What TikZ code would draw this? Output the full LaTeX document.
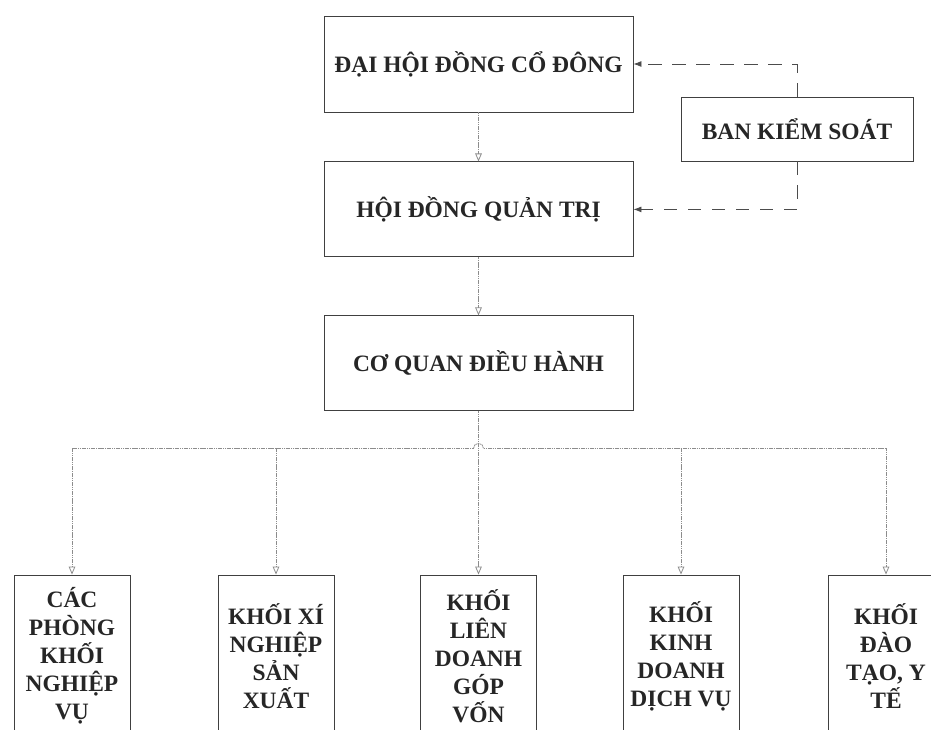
\documentclass[tikz,border=0pt]{standalone}
\usepackage{fontspec}
\setmainfont{Liberation Serif}
\usetikzlibrary{arrows.meta,positioning,calc}

\begin{document}
\begin{tikzpicture}[
  x=0.75pt, y=-0.75pt,
  box/.style={rectangle, draw=black!75, line width=0.7pt, minimum width=231.75pt,
              minimum height=71.25pt, align=center,
              font=\fontsize{17.6}{21}\selectfont\bfseries, text=black!85},
  unitbox/.style={box, minimum width=87pt, minimum height=121.5pt},
  sidebox/.style={box, minimum width=174pt, minimum height=48pt},
  link/.style={draw=black!45, line width=0.6pt, dash pattern=on 1.2pt off 0.5pt},
  arrow/.style={link, -{Triangle[open, length=6pt, width=5pt]}},
  ctrl/.style={draw=black!70, line width=0.6pt, dash pattern=on 10pt off 8pt,
               -{Latex[length=6pt, width=4.5pt]}}
]
  \useasboundingbox (0,0) rectangle (931,730);
  \clip (0,0) rectangle (931,730);

  \node[box, minimum height=72pt] (dhcd) at (478.5,64) {ĐẠI HỘI ĐỒNG CỔ ĐÔNG};
  \node[box, below=36.75pt of dhcd] (hdqt) {HỘI ĐỒNG QUẢN TRỊ};
  \node[box, below=43.5pt of hdqt] (cqdh) {CƠ QUAN ĐIỀU HÀNH};
  \node[sidebox] (bks) at (797,129) {BAN KIỂM SOÁT};

  \node[unitbox] (k1) at (72,656) {CÁC\\PHÒNG\\KHỐI\\NGHIỆP\\VỤ};
  \node[unitbox] (k2) at (276,656) {KHỐI XÍ\\NGHIỆP\\SẢN\\XUẤT};
  \node[unitbox] (k3) at (478.5,656) {KHỐI\\LIÊN\\DOANH\\GÓP\\VỐN};
  \node[unitbox] (k4) at (681,656) {KHỐI\\KINH\\DOANH\\DỊCH VỤ};
  \node[unitbox] (k5) at (886,656) {KHỐI\\ĐÀO\\TẠO, Y\\TẾ};

  \draw[arrow] (dhcd) -- (hdqt);
  \draw[arrow] (hdqt) -- (cqdh);
  \draw[ctrl] (bks.north) |- (dhcd.east);
  \draw[ctrl] (bks.south) |- (hdqt.east);

  % bus below the executive box, with a small hop over the trunk
  \coordinate (bus) at ($(cqdh.south)+(0,37)$);
  \coordinate (busL) at ($(bus)+(-5,0)$);
  \coordinate (busR) at ($(bus)+(5,0)$);
  \draw[arrow] (cqdh) -- (k3);
  \draw[link] (busL) arc[start angle=180, end angle=360, radius=5];
  \draw[arrow] (busL) -| (k1.north);
  \draw[arrow] (busL) -| (k2.north);
  \draw[arrow] (busR) -| (k4.north);
  \draw[arrow] (busR) -| (k5.north);
\end{tikzpicture}
\end{document}
